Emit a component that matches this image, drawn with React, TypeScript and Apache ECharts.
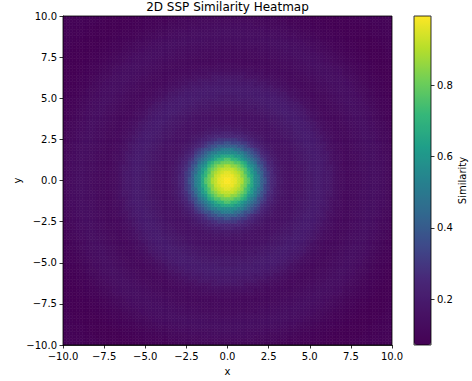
import React, { useEffect, useRef } from "react";
import * as echarts from "echarts";

const chartTitle = "2D SSP Similarity Heatmap";
const xLabel = "x";
const yLabel = "y";
const colorbarLabel = "Similarity";

const axisTicks = [-10, -7.5, -5, -2.5, 0, 2.5, 5, 7.5, 10];
const colorbarTicks = [0.2, 0.4, 0.6, 0.8];
const valueMin = 0.071;
const valueMax = 0.995;

const profileRadii = [
  0, 0.125, 0.25, 0.375, 0.5, 0.625, 0.75, 0.875, 1.0, 1.125,
  1.25, 1.375, 1.5, 1.625, 1.75, 1.875, 2.0, 2.125, 2.25, 2.375,
  2.5, 2.625, 2.75, 2.875, 3.0, 3.125, 3.25, 3.375, 3.5, 3.75,
  4.0, 4.25, 4.5, 4.75, 5.0, 5.25, 5.5, 5.75, 6.0, 6.25,
  6.5, 6.75, 7.0, 7.25, 7.5, 7.75, 8.0, 8.25, 8.5, 8.75,
  9.0, 9.25, 9.5, 9.75, 10.0, 10.25, 10.5, 10.75, 11.0, 11.25,
  11.5, 11.75, 12.0, 12.25, 12.5, 12.75, 13.0, 13.25, 13.5, 13.75,
  14.0, 14.25,
];
const profileValues = [
  0.995, 0.993, 0.985, 0.975, 0.96, 0.94, 0.92, 0.89, 0.85, 0.81,
  0.76, 0.71, 0.66, 0.61, 0.56, 0.51, 0.46, 0.415, 0.37, 0.335,
  0.3, 0.27, 0.245, 0.225, 0.205, 0.19, 0.18, 0.17, 0.163, 0.157,
  0.157, 0.162, 0.17, 0.18, 0.19, 0.198, 0.2, 0.196, 0.187, 0.172,
  0.155, 0.138, 0.125, 0.118, 0.117, 0.12, 0.126, 0.133, 0.138, 0.141,
  0.141, 0.137, 0.13, 0.12, 0.11, 0.1, 0.092, 0.086, 0.08, 0.075,
  0.072, 0.071, 0.071, 0.073, 0.076, 0.08, 0.083, 0.086, 0.088, 0.09,
  0.09, 0.09,
];

const viridis = [
  "#440154", "#471365", "#482878", "#3e4989", "#31688e", "#26828e",
  "#1f9e89", "#35b779", "#6ece58", "#b5de2b", "#fde725",
];

const cellsPerAxis = 100;
const extent = 10;

function nearestProfile(r: number) {
  let best = 0;
  let bestD = Infinity;
  for (let k = 0; k < profileRadii.length; k++) {
    const d = Math.abs(profileRadii[k] - r);
    if (d < bestD) { bestD = d; best = k; }
  }
  return profileValues[best];
}

function buildCells() {
  const data: number[][] = [];
  const step = (2 * extent) / cellsPerAxis;
  for (let i = 0; i < cellsPerAxis; i++) {
    const x = -extent + (i + 0.5) * step;
    for (let j = 0; j < cellsPerAxis; j++) {
      const y = -extent + (j + 0.5) * step;
      data.push([x, y, nearestProfile(Math.sqrt(x * x + y * y))]);
    }
  }
  return { data, half: step / 2 };
}

const FONT = "DejaVu Sans";
const fmt = (v: number) => (v < 0 ? "\u2212" : "") + Math.abs(v).toFixed(1);

export default function App() {
  const ref = useRef<HTMLDivElement>(null);
  useEffect(() => {
    if (!ref.current) return;
    const chart = echarts.init(ref.current, undefined, { renderer: "svg" });
    const { data, half } = buildCells();
    const line = { show: true, onZero: false, lineStyle: { color: "#000", width: 0.8 } };
    const tick = { show: true, length: 3.5, inside: false, lineStyle: { color: "#000", width: 0.8 } };
    const label = { color: "#000", fontSize: 10, fontFamily: FONT };
    chart.setOption({
      animation: false,
      backgroundColor: "#fff",
      grid: [
        { left: 63, top: 16, width: 329, height: 329 },
        { left: 414, top: 16, width: 17, height: 329 },
      ],
      xAxis: [
        {
          type: "value", gridIndex: 0, min: -10, max: 10, interval: 2.5, position: "bottom",
          axisLine: line, axisTick: tick,
          axisLabel: { ...label, margin: 6, formatter: fmt, showMinLabel: true, showMaxLabel: true },
          splitLine: { show: false },
        },
        { type: "value", gridIndex: 1, show: false, min: 0, max: 1, axisLine: { show: false, onZero: false } },
      ],
      yAxis: [
        {
          type: "value", gridIndex: 0, min: -10, max: 10, interval: 2.5, position: "left",
          axisLine: line, axisTick: tick,
          axisLabel: { ...label, margin: 6, formatter: fmt, showMinLabel: true, showMaxLabel: true },
          splitLine: { show: false },
        },
        {
          type: "value", gridIndex: 1, min: valueMin, max: valueMax, position: "right",
          axisLine: { show: false, onZero: false },
          axisTick: { ...tick, customValues: colorbarTicks },
          axisLabel: { ...label, margin: 6, customValues: colorbarTicks, formatter: (v: number) => v.toFixed(1) },
          splitLine: { show: false },
        },
      ],
      visualMap: {
        type: "continuous",
        min: valueMin,
        max: valueMax,
        seriesIndex: 0,
        dimension: 2,
        calculable: false,
        orient: "vertical",
        left: 414,
        top: 16,
        itemWidth: 17,
        itemHeight: 329,
        padding: 0,
        inRange: { color: viridis },
        hoverLink: false,
      },
      series: [
        {
          type: "custom", xAxisIndex: 0, yAxisIndex: 0, data, silent: true,
          progressive: 0,
          encode: { x: 0, y: 1 },
          renderItem: (params: any, api: any) => {
            const x = api.value(0);
            const y = api.value(1);
            const p0 = api.coord([x - half, y + half]);
            const p1 = api.coord([x + half, y - half]);
            const color = api.visual("color");
            return {
              type: "rect",
              shape: { x: p0[0], y: p0[1], width: p1[0] - p0[0], height: p1[1] - p0[1] },
              style: { fill: color, stroke: color, lineWidth: 0.6 },
            };
          },
          clip: true,
        },
        { type: "scatter", xAxisIndex: 1, yAxisIndex: 1, data: [], silent: true },
      ],
      graphic: [
        {
          type: "text", x: 227.5, y: 7, z: 100,
          style: { text: chartTitle, fontSize: 12, fontFamily: FONT, fill: "#000", align: "center", verticalAlign: "middle" },
        },
        {
          type: "text", x: 227.5, y: 371.5, z: 100,
          style: { text: xLabel, fontSize: 10, fontFamily: FONT, fill: "#000", align: "center", verticalAlign: "middle" },
        },
        {
          type: "text", x: 17, y: 180.5, rotation: Math.PI / 2, z: 100,
          style: { text: yLabel, fontSize: 10, fontFamily: FONT, fill: "#000", align: "center", verticalAlign: "middle" },
        },
        {
          type: "text", x: 462, y: 180.5, rotation: Math.PI / 2, z: 100,
          style: { text: colorbarLabel, fontSize: 10, fontFamily: FONT, fill: "#000", align: "center", verticalAlign: "middle" },
        },
        {
          type: "rect", z: 100, silent: true,
          shape: { x: 63, y: 16, width: 329, height: 329 },
          style: { fill: "transparent", stroke: "#000", lineWidth: 0.8 },
        },
        {
          type: "rect", z: 100, silent: true,
          shape: { x: 414, y: 16, width: 17, height: 329 },
          style: { fill: "transparent", stroke: "#000", lineWidth: 0.8 },
        },
      ],
    });
    return () => chart.dispose();
  }, []);
  return (
    <div
      ref={ref}
      style={{ position: "fixed", left: 0, top: 0, width: 472, height: 381, background: "#fff" }}
    />
  );
}
